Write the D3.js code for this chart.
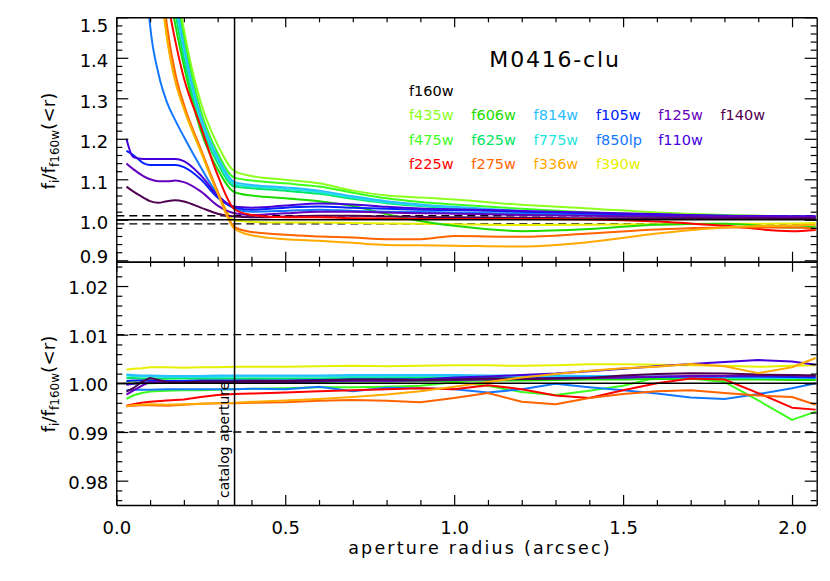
<!DOCTYPE html>
<html>
<head>
<meta charset="utf-8">
<script src="https://cdn.jsdelivr.net/npm/d3@7"></script>
<style>
  body { margin: 0; background: #fff; }
  text { font-family: "DejaVu Sans", sans-serif; fill: #000; }
</style>
</head>
<body>
<div id="mainDiv"></div>
<script>
'use strict';

// aperture radius (arcsec) sampled in each panel
var radiusTop    = [0.03, 0.05, 0.08, 0.1, 0.125, 0.15, 0.175, 0.2, 0.25, 0.3, 0.35, 0.4, 0.5, 0.6, 0.7, 0.8, 0.9, 1.0, 1.2, 1.4, 1.6, 1.8, 2.0, 2.07];
var radiusBottom = [0.03, 0.05, 0.075, 0.1, 0.15, 0.2, 0.25, 0.3, 0.35, 0.4, 0.5, 0.6, 0.7, 0.8, 0.9, 1.0, 1.1, 1.2, 1.3, 1.4, 1.5, 1.6, 1.7, 1.8, 1.9, 2.0, 2.07];

// top panel: f_i / f_f160w(<r) before matching
var top_f435w  = [3.0, 2.8, 2.45, 2.2, 1.95, 1.76, 1.6, 1.47, 1.29, 1.185, 1.12, 1.108, 1.099, 1.09, 1.072, 1.06, 1.055, 1.05, 1.037, 1.028, 1.018, 1.012, 1.008, 1.007];
var top_f475w  = [2.9, 2.7, 2.35, 2.15, 1.9, 1.72, 1.57, 1.45, 1.27, 1.165, 1.104, 1.097, 1.09, 1.082, 1.067, 1.053, 1.044, 1.038, 1.027, 1.018, 1.012, 1.008, 1.006, 1.005];
var top_f606w  = [2.7, 2.5, 2.15, 1.95, 1.75, 1.6, 1.48, 1.38, 1.22, 1.125, 1.068, 1.06, 1.053, 1.046, 1.034, 1.014, 0.997, 0.985, 0.972, 0.977, 0.988, 0.99, 0.981, 0.983];
var top_f625w  = [2.75, 2.55, 2.2, 2.0, 1.8, 1.64, 1.51, 1.4, 1.235, 1.14, 1.082, 1.078, 1.072, 1.064, 1.052, 1.041, 1.034, 1.028, 1.019, 1.012, 1.008, 1.005, 1.004, 1.004];
var top_f775w  = [2.8, 2.6, 2.25, 2.05, 1.83, 1.66, 1.53, 1.42, 1.245, 1.148, 1.087, 1.082, 1.076, 1.068, 1.055, 1.043, 1.035, 1.03, 1.02, 1.013, 1.009, 1.006, 1.005, 1.004];
var top_f814w  = [2.85, 2.65, 2.3, 2.1, 1.86, 1.69, 1.55, 1.43, 1.255, 1.155, 1.093, 1.086, 1.08, 1.072, 1.058, 1.046, 1.038, 1.032, 1.022, 1.015, 1.01, 1.007, 1.005, 1.005];
var top_f850lp = [2.6, 2.2, 1.7, 1.48, 1.36, 1.29, 1.245, 1.205, 1.13, 1.063, 1.028, 1.02, 1.022, 1.025, 1.022, 1.02, 1.019, 1.018, 1.015, 1.012, 1.01, 1.007, 1.005, 1.005];
var top_f105w  = [1.17, 1.16, 1.14, 1.135, 1.135, 1.135, 1.135, 1.13, 1.1, 1.055, 1.03, 1.025, 1.03, 1.033, 1.03, 1.027, 1.025, 1.024, 1.02, 1.016, 1.012, 1.01, 1.008, 1.008];
var top_f110w  = [1.2, 1.155, 1.15, 1.15, 1.15, 1.15, 1.15, 1.145, 1.11, 1.06, 1.032, 1.03, 1.035, 1.04, 1.038, 1.032, 1.028, 1.026, 1.022, 1.018, 1.014, 1.01, 1.009, 1.009];
var top_f125w  = [1.139, 1.125, 1.108, 1.1, 1.095, 1.095, 1.097, 1.093, 1.07, 1.035, 1.016, 1.012, 1.016, 1.02, 1.02, 1.018, 1.016, 1.015, 1.012, 1.01, 1.008, 1.007, 1.006, 1.006];
var top_f140w  = [1.082, 1.07, 1.055, 1.046, 1.042, 1.046, 1.048, 1.045, 1.03, 1.015, 1.008, 1.006, 1.008, 1.01, 1.01, 1.008, 1.007, 1.006, 1.005, 1.004, 1.004, 1.003, 1.003, 1.003];
var top_f225w  = [2.4, 2.25, 2.0, 1.85, 1.68, 1.55, 1.44, 1.35, 1.23, 1.11, 1.026, 1.012, 1.006, 1.006, 1.004, 1.003, 1.002, 1.002, 1.002, 1.001, 0.996, 0.985, 0.972, 0.975];
var top_f275w  = [3.1, 2.85, 2.3, 1.97, 1.68, 1.48, 1.36, 1.285, 1.175, 1.07, 0.982, 0.97, 0.963, 0.959, 0.956, 0.952, 0.952, 0.96, 0.958, 0.966, 0.976, 0.981, 0.981, 0.978];
var top_f336w  = [3.2, 2.9, 2.3, 1.95, 1.65, 1.45, 1.34, 1.275, 1.17, 1.065, 0.978, 0.962, 0.952, 0.948, 0.943, 0.938, 0.937, 0.936, 0.934, 0.945, 0.966, 0.981, 0.986, 0.988];
var top_f390w  = [3.0, 2.75, 2.2, 1.9, 1.62, 1.45, 1.345, 1.275, 1.168, 1.068, 0.998, 0.995, 0.993, 0.993, 0.992, 0.991, 0.99, 0.989, 0.987, 0.988, 0.989, 0.99, 0.991, 0.992];

// bottom panel: same ratio after matching
var bot_f435w  = [1.0004, 1.0005, 1.0006, 1.0006, 1.0006, 1.0005, 1.0006, 1.0006, 1.0006, 1.0007, 1.0006, 1.0007, 1.0008, 1.0007, 1.0008, 1.0008, 1.0009, 1.0008, 1.001, 1.001, 1.0011, 1.0012, 1.0011, 1.0012, 1.0011, 1.001, 1.001];
var bot_f475w  = [0.9968, 0.9975, 0.998, 0.9983, 0.9985, 0.9986, 0.9986, 0.9987, 0.9988, 0.9989, 0.999, 0.9992, 0.9992, 0.9993, 0.9995, 1.0002, 0.9995, 0.9982, 0.9976, 0.9985, 0.9995, 1.0012, 1.001, 1.0003, 0.9965, 0.9925, 0.9942];
var bot_f606w  = [0.9998, 0.9999, 1.0, 1.0, 1.0001, 1.0001, 1.0001, 1.0002, 1.0002, 1.0002, 1.0003, 1.0003, 1.0004, 1.0004, 1.0005, 1.0005, 1.0006, 1.0006, 1.0007, 1.0008, 1.0008, 1.0009, 1.0009, 1.0008, 1.0008, 1.0007, 1.0007];
var bot_f625w  = [1.0011, 1.0011, 1.001, 1.001, 1.001, 1.001, 1.001, 1.001, 1.001, 1.001, 1.001, 1.001, 1.0011, 1.0011, 1.0011, 1.0012, 1.0012, 1.0012, 1.0012, 1.0013, 1.0013, 1.0013, 1.0012, 1.0012, 1.0011, 1.0011, 1.0011];
var bot_f775w  = [1.0016, 1.0015, 1.0014, 1.0014, 1.0013, 1.0013, 1.0013, 1.0013, 1.0014, 1.0014, 1.0014, 1.0014, 1.0014, 1.0014, 1.0015, 1.0015, 1.0015, 1.0015, 1.0014, 1.0014, 1.0013, 1.0013, 1.0012, 1.0012, 1.0012, 1.0011, 1.0011];
var bot_f814w  = [1.0018, 1.0017, 1.0016, 1.0016, 1.0015, 1.0015, 1.0015, 1.0016, 1.0016, 1.0016, 1.0016, 1.0016, 1.0017, 1.0017, 1.0017, 1.0017, 1.0016, 1.0016, 1.0016, 1.0015, 1.0015, 1.0014, 1.0013, 1.0013, 1.0012, 1.0012, 1.0012];
var bot_f850lp = [0.9986, 0.9987, 0.9987, 0.9987, 0.9988, 0.9988, 0.9988, 0.9988, 0.9988, 0.9989, 0.9988, 0.9993, 0.9984, 0.9991, 0.999, 0.9988, 0.9981, 0.9988, 0.9999, 0.9992, 0.9986, 0.9979, 0.9971, 0.9968, 0.9978, 0.999, 1.0];
var bot_f105w  = [1.0005, 1.0006, 1.0006, 1.0006, 1.0005, 1.0005, 1.0006, 1.0006, 1.0006, 1.0006, 1.0006, 1.0007, 1.0008, 1.0008, 1.0008, 1.0009, 1.001, 1.001, 1.0011, 1.0012, 1.0012, 1.0013, 1.0014, 1.0014, 1.0014, 1.0013, 1.0012];
var bot_f110w  = [0.9997, 0.9999, 1.0001, 1.0002, 1.0002, 1.0002, 1.0002, 1.0002, 1.0003, 1.0003, 1.0004, 1.0005, 1.0006, 1.0007, 1.0008, 1.0012, 1.0014, 1.0017, 1.002, 1.0025, 1.003, 1.0035, 1.004, 1.0044, 1.0048, 1.0045, 1.0038];
var bot_f125w  = [0.9977, 0.9985, 0.9995, 1.0003, 1.0002, 1.0001, 1.0002, 1.0002, 1.0002, 1.0002, 1.0003, 1.0004, 1.0006, 1.0005, 1.0006, 1.0007, 1.0008, 1.0009, 1.001, 1.0011, 1.0012, 1.0014, 1.0015, 1.0015, 1.0016, 1.0016, 1.0015];
var bot_f140w  = [0.9983, 0.999, 1.0003, 1.0011, 1.0003, 1.0002, 1.0004, 1.0004, 1.0004, 1.0005, 1.0005, 1.0006, 1.0008, 1.0008, 1.0007, 1.0008, 1.001, 1.0009, 1.001, 1.0011, 1.0016, 1.0019, 1.0021, 1.002, 1.0018, 1.0017, 1.0016];
var bot_f225w  = [0.9954, 0.9957, 0.996, 0.9962, 0.9965, 0.9967, 0.9972, 0.9976, 0.9978, 0.9979, 0.9981, 0.9984, 0.9986, 0.9988, 0.999, 0.9988, 0.9996, 0.9988, 0.9975, 0.997, 0.9986, 1.0, 1.001, 1.0008, 0.998, 0.995, 0.9946];
var bot_f275w  = [0.9953, 0.9954, 0.9955, 0.9955, 0.9954, 0.9956, 0.9958, 0.9959, 0.9959, 0.996, 0.9961, 0.9964, 0.9966, 0.9964, 0.9961, 0.997, 0.998, 0.9962, 0.9957, 0.997, 0.9978, 0.9984, 0.9986, 0.998, 0.9975, 0.9972, 0.9956];
var bot_f336w  = [0.9953, 0.9955, 0.9956, 0.9957, 0.9956, 0.9957, 0.9958, 0.9959, 0.996, 0.9962, 0.9965, 0.9968, 0.9972, 0.9977, 0.9984, 0.9993, 1.0003, 1.0012, 1.0019, 1.0026, 1.0031, 1.0034, 1.004, 1.0035, 1.0021, 1.0033, 1.0052];
var bot_f390w  = [1.0028, 1.003, 1.0031, 1.0033, 1.0033, 1.0032, 1.0033, 1.0033, 1.0034, 1.0034, 1.0034, 1.0035, 1.0036, 1.0035, 1.0036, 1.0037, 1.0037, 1.0036, 1.0037, 1.0039, 1.0039, 1.0038, 1.0037, 1.0036, 1.0034, 1.0036, 1.0037];

// drawing order of the filters
var filterOrder = ['f390w', 'f435w', 'f475w', 'f606w', 'f625w', 'f775w', 'f814w', 'f850lp', 'f105w', 'f110w', 'f125w', 'f140w', 'f225w', 'f275w', 'f336w'];

// legend, row by row
var legendRows = [
    ['f160w'],
    ['f435w', 'f606w', 'f814w', 'f105w', 'f125w', 'f140w'],
    ['f475w', 'f625w', 'f775w', 'f850lp', 'f110w'],
    ['f225w', 'f275w', 'f336w', 'f390w']
];

var clusterName = 'M0416-clu';
var catalogAperture = 0.35;
var limitLines = [0.99, 1.01];

var xTicks = [0, 0.5, 1.0, 1.5, 2.0];
var yTopTicks = [0.9, 1.0, 1.1, 1.2, 1.3, 1.4, 1.5];
var yBottomTicks = [0.98, 0.99, 1.00, 1.01, 1.02];


var chart = {};

chart.left = 116.3;
chart.right = 816.7;
chart.top = 17.3;
chart.mid = 261.7;
chart.bottom = 505;

chart.xScale    = d3.scaleLinear().domain([0, 2.073]).range([chart.left, chart.right]);
chart.yTop      = d3.scaleLinear().domain([0.8965, 1.5]).range([chart.mid, chart.top]);
chart.yBottom   = d3.scaleLinear().domain([0.975, 1.025]).range([chart.bottom, chart.mid]);

chart.colorScale = d3.scaleOrdinal()
    .domain(['f160w', 'f435w', 'f475w', 'f606w', 'f625w', 'f775w', 'f814w', 'f850lp', 'f105w', 'f110w', 'f125w', 'f140w', 'f225w', 'f275w', 'f336w', 'f390w'])
    .range(['#000000', '#8cff1e', '#3cff1e', '#1edc00', '#00e664', '#1ee6dc', '#28beff', '#1478ff', '#0020ff', '#4600dc', '#6400be', '#500050', '#ff0000', '#ff6400', '#ffaa00', '#e6f000']);

chart.topTable = {
    f435w: top_f435w, f475w: top_f475w, f606w: top_f606w, f625w: top_f625w,
    f775w: top_f775w, f814w: top_f814w, f850lp: top_f850lp, f105w: top_f105w,
    f110w: top_f110w, f125w: top_f125w, f140w: top_f140w, f225w: top_f225w,
    f275w: top_f275w, f336w: top_f336w, f390w: top_f390w
};
chart.bottomTable = {
    f435w: bot_f435w, f475w: bot_f475w, f606w: bot_f606w, f625w: bot_f625w,
    f775w: bot_f775w, f814w: bot_f814w, f850lp: bot_f850lp, f105w: bot_f105w,
    f110w: bot_f110w, f125w: bot_f125w, f140w: bot_f140w, f225w: bot_f225w,
    f275w: bot_f275w, f336w: bot_f336w, f390w: bot_f390w
};


chart.appendSVG = function(DOMObj){
    return d3.select(DOMObj).append('svg')
        .attr('width', 830)
        .attr('height', 581);
}

chart.styleAxis = function(g, keepDomain){
    g.attr('font-size', null).attr('font-family', null);
    if (keepDomain) {
        g.select('.domain').attr('stroke-width', 1.4);
    } else {
        g.select('.domain').remove();
    }
    g.selectAll('.tick line').attr('stroke-width', 1.2);
    g.selectAll('.tick text').attr('font-size', 18);
    return g;
}

chart.minorValues = function(start, step, count, every){
    return d3.range(count).map(function(i){ return +(start + i * step).toFixed(4); })
        .filter(function(v, i){ return i % every !== 0; });
}

chart.drawAxes = function(svg){
    var x = chart.xScale;
    var xMinor = chart.minorValues(0, 0.1, 21, 5);

    // x axes: bottom of lower panel (labelled), shared edge, top edge
    var xSpecs = [
        {y: chart.bottom, size: -10, labels: true},
        {y: chart.mid, size: -10, labels: false},
        {y: chart.mid, size: 10, labels: false},
        {y: chart.top, size: 10, labels: false}
    ];
    xSpecs.forEach(function(s){
        var major = d3.axisBottom(x).tickValues(xTicks).tickSizeInner(s.size).tickSizeOuter(0).tickPadding(16)
            .tickFormat(s.labels ? d3.format('.1f') : '');
        chart.styleAxis(svg.append('g').attr('transform', 'translate(0,' + s.y + ')').call(major), true);
        var minor = d3.axisBottom(x).tickValues(xMinor).tickSizeInner(s.size / 2).tickSizeOuter(0).tickFormat('');
        chart.styleAxis(svg.append('g').attr('transform', 'translate(0,' + s.y + ')').call(minor), false);
    });

    var panels = [
        {scale: chart.yTop, ticks: yTopTicks, fmt: '.1f', minor: chart.minorValues(0.9, 0.02, 31, 5), off: 2.5, lo: 25, hi: 256},
        {scale: chart.yBottom, ticks: yBottomTicks, fmt: '.2f', minor: chart.minorValues(0.976, 0.002, 25, 5).concat([]), off: 1, lo: 0, hi: 999}
    ];
    // bottom panel minor ticks: every 0.002 except the labelled hundredths
    panels[1].minor = d3.range(25).filter(function(i){ return i % 5 !== 2; })
        .map(function(i){ return +(0.976 + i * 0.002).toFixed(4); });

    panels.forEach(function(p){
        var left = d3.axisLeft(p.scale).tickValues(p.ticks).tickSizeInner(-12).tickSizeOuter(0).tickPadding(8)
            .tickFormat(d3.format(p.fmt));
        var gl = chart.styleAxis(svg.append('g').attr('transform', 'translate(' + chart.left + ',0)').call(left), true);
        gl.selectAll('.tick text')
            .attr('dy', '0.36em')
            .attr('y', function(d){
                var pos = p.scale(d);
                var c = Math.max(p.lo, Math.min(p.hi, pos + p.off));
                return c - pos;
            });
        var leftMinor = d3.axisLeft(p.scale).tickValues(p.minor).tickSizeInner(-6).tickSizeOuter(0).tickFormat('');
        chart.styleAxis(svg.append('g').attr('transform', 'translate(' + chart.left + ',0)').call(leftMinor), false);

        var right = d3.axisRight(p.scale).tickValues(p.ticks).tickSizeInner(-12).tickSizeOuter(0).tickFormat('');
        chart.styleAxis(svg.append('g').attr('transform', 'translate(' + chart.right + ',0)').call(right), true);
        var rightMinor = d3.axisRight(p.scale).tickValues(p.minor).tickSizeInner(-6).tickSizeOuter(0).tickFormat('');
        chart.styleAxis(svg.append('g').attr('transform', 'translate(' + chart.right + ',0)').call(rightMinor), false);
    });
}

chart.drawPanel = function(svg, id, yScale, table, radii, curve, y0, y1){
    svg.append('clipPath').attr('id', id)
        .append('rect')
        .attr('x', chart.left).attr('y', y0)
        .attr('width', chart.right - chart.left).attr('height', y1 - y0);

    var g = svg.append('g').attr('clip-path', 'url(#' + id + ')');
    var x = chart.xScale;

    // reference lines: dashed 1% limits, solid f160w = 1
    g.selectAll('line.limit')
        .data(limitLines)
        .enter().append('line')
        .attr('class', 'limit')
        .attr('x1', x.range()[0]).attr('x2', x.range()[1])
        .attr('y1', function(d){ return yScale(d); })
        .attr('y2', function(d){ return yScale(d); })
        .attr('stroke', '#000').attr('stroke-width', 1.3)
        .attr('stroke-dasharray', '8,5');

    var line = d3.line()
        .x(function(d){ return x(d.r); })
        .y(function(d){ return yScale(d.v); })
        .curve(curve);

    var series = filterOrder.map(function(name){
        return {name: name, points: table[name].map(function(v, i){ return {r: radii[i], v: v}; })};
    });

    g.selectAll('path.ratio')
        .data(series)
        .enter().append('path')
        .attr('class', 'ratio')
        .attr('d', function(d){ return line(d.points); })
        .attr('fill', 'none')
        .attr('stroke', function(d){ return chart.colorScale(d.name); })
        .attr('stroke-width', 2)
        .attr('stroke-linejoin', 'round');

    g.append('line')
        .attr('x1', x.range()[0]).attr('x2', x.range()[1])
        .attr('y1', yScale(1)).attr('y2', yScale(1))
        .attr('stroke', '#000').attr('stroke-width', 1.5);
}

chart.yLabel = function(svg, cy){
    var t = svg.append('text')
        .attr('transform', 'translate(55,' + cy + ') rotate(-90)')
        .attr('text-anchor', 'middle')
        .attr('font-size', 18.5);
    t.append('tspan').text('f');
    t.append('tspan').attr('font-size', 12).attr('dy', 4).text('i');
    t.append('tspan').attr('dy', -4).text('/f');
    t.append('tspan').attr('font-size', 12).attr('dy', 4).text('f160w');
    t.append('tspan').attr('dy', -4).text('(<r)');
}

chart.drawText = function(svg){
    var x = chart.xScale;

    svg.append('text')
        .attr('x', 480).attr('y', 554)
        .attr('text-anchor', 'middle')
        .attr('font-size', 17.5)
        .attr('letter-spacing', 2.2)
        .text('aperture radius (arcsec)');

    chart.yLabel(svg, 141);
    chart.yLabel(svg, 384);

    // catalog aperture marker across both panels
    svg.append('line')
        .attr('x1', x(catalogAperture)).attr('x2', x(catalogAperture))
        .attr('y1', chart.top).attr('y2', chart.bottom)
        .attr('stroke', '#000').attr('stroke-width', 1.5);
    svg.append('text')
        .attr('transform', 'translate(' + (x(catalogAperture) - 5.5) + ',498) rotate(-90)')
        .attr('font-size', 14)
        .text('catalog aperture');

    svg.append('text')
        .attr('x', 555).attr('y', 66.5)
        .attr('text-anchor', 'middle')
        .attr('font-size', 22)
        .attr('letter-spacing', 1.8)
        .text(clusterName);

    var legend = svg.append('g').attr('transform', 'translate(409,96)');
    legendRows.forEach(function(row, ri){
        legend.selectAll('text.row' + ri)
            .data(row)
            .enter().append('text')
            .attr('class', 'row' + ri)
            .attr('x', function(d, i){ return i * 62.3; })
            .attr('y', ri * 24.4)
            .attr('font-size', 14.5)
            .style('fill', function(d){ return chart.colorScale(d); })
            .text(function(d){ return d; });
    });
}

chart.start = function(){
    var svg = chart.appendSVG('#mainDiv');
    svg.append('rect').attr('width', 830).attr('height', 581).attr('fill', '#fff');

    chart.drawPanel(svg, 'clipTop', chart.yTop, chart.topTable, radiusTop, d3.curveMonotoneX, chart.top, chart.mid);
    chart.drawPanel(svg, 'clipBottom', chart.yBottom, chart.bottomTable, radiusBottom, d3.curveLinear, chart.mid, chart.bottom);
    chart.drawAxes(svg);
    chart.drawText(svg);
}

window.onload = chart.start;
</script>
</body>
</html>
